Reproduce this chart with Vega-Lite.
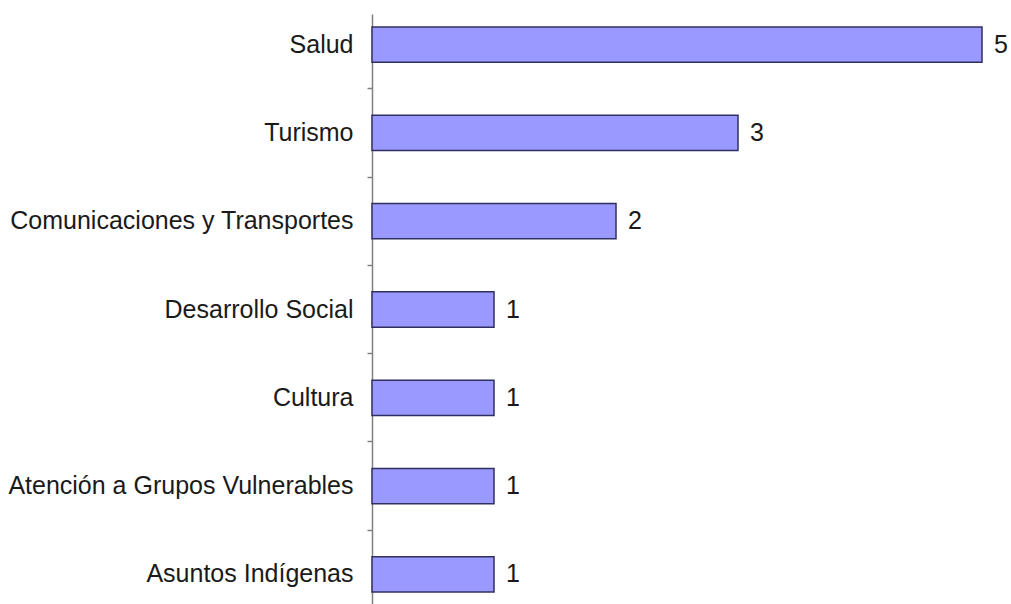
{
  "$schema": "https://vega.github.io/schema/vega-lite/v6.json",
  "autosize": "none",
  "width": 610,
  "height": 591,
  "padding": {"left": 372, "top": 14, "right": 29, "bottom": 0},
  "background": "white",
  "config": {"view": {"stroke": null}},
  "data": {
    "values": [
      {"categoria": "Salud", "valor": 5},
      {"categoria": "Turismo", "valor": 3},
      {"categoria": "Comunicaciones y Transportes", "valor": 2},
      {"categoria": "Desarrollo Social", "valor": 1},
      {"categoria": "Cultura", "valor": 1},
      {"categoria": "Atención a Grupos Vulnerables", "valor": 1},
      {"categoria": "Asuntos Indígenas", "valor": 1}
    ]
  },
  "encoding": {
    "y": {
      "field": "categoria",
      "type": "nominal",
      "sort": null,
      "scale": {"paddingInner": 0.6, "paddingOuter": 0.147},
      "axis": {
        "title": null,
        "bandPosition": 1.75,
        "domainColor": "#808080",
        "domainWidth": 1.5,
        "tickColor": "#808080",
        "tickSize": 5,
        "tickWidth": 1.5,
        "labelPadding": 14,
        "labelFont": "Liberation Sans",
        "labelFontSize": 25,
        "labelColor": "#1a1a1a",
        "labelLimit": 400
      }
    },
    "x": {
      "field": "valor",
      "type": "quantitative",
      "scale": {"domain": [0, 5], "nice": false, "zero": true},
      "axis": null
    }
  },
  "layer": [
    {
      "mark": {"type": "bar", "color": "#9999ff", "stroke": "#303060", "strokeWidth": 1.5}
    },
    {
      "mark": {"type": "text", "align": "left", "baseline": "middle", "dx": 12, "font": "Liberation Sans", "fontSize": 25, "color": "#1a1a1a"},
      "encoding": {"text": {"field": "valor", "type": "quantitative"}}
    }
  ]
}
